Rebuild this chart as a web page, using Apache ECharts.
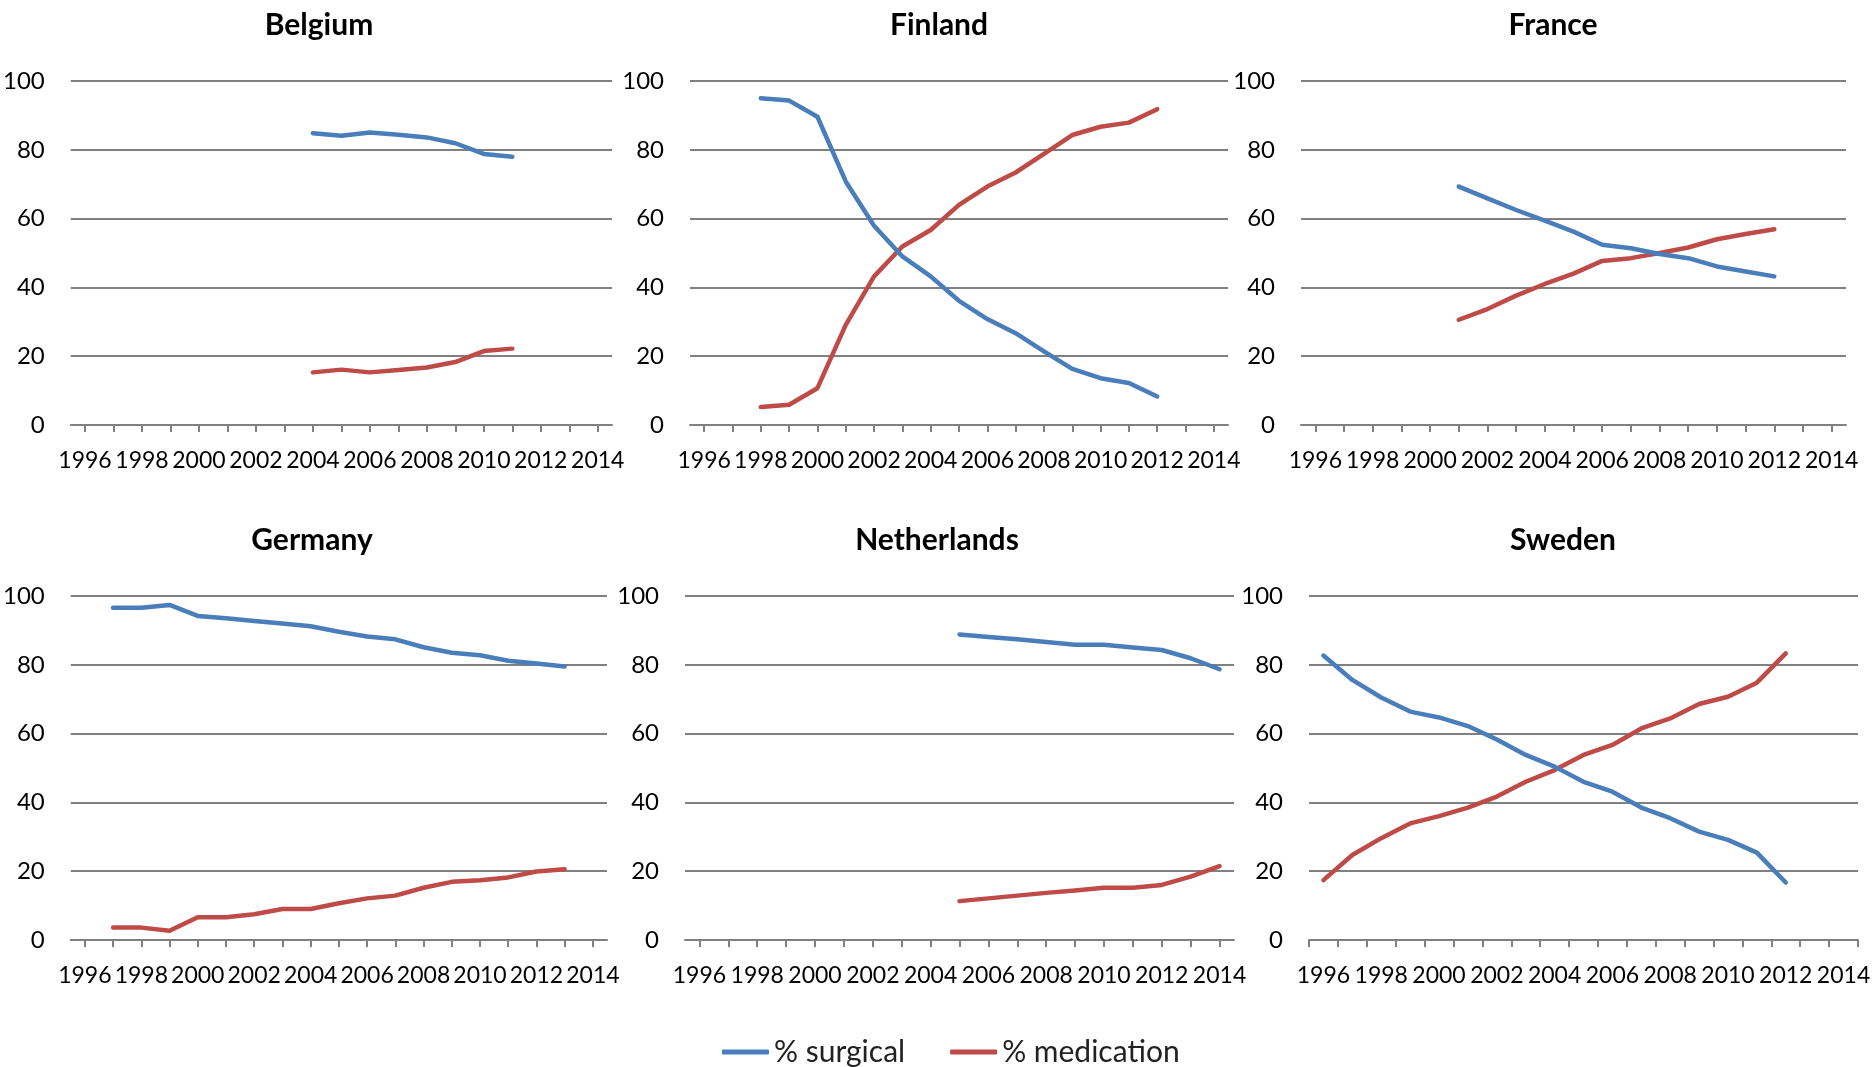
<!DOCTYPE html>
<html>
<head>
<meta charset="utf-8">
<script src="https://cdn.jsdelivr.net/npm/echarts@6/dist/echarts.min.js"></script>
<style>
html,body{margin:0;padding:0;background:#fff;}
#chart{width:1874px;height:1067px;}
</style>
</head>
<body>
<div id="chart"></div>
<script>
// ---- Data ----
const categories = ['1996','1997','1998','1999','2000','2001','2002','2003','2004','2005','2006','2007','2008','2009','2010','2011','2012','2013','2014'];
const yTicks = [0, 20, 40, 60, 80, 100];
const seriesNames = ['% surgical', '% medication'];
const countries = ['Belgium', 'Finland', 'France', 'Germany', 'Netherlands', 'Sweden'];

const belgiumYears = [2004,2005,2006,2007,2008,2009,2010,2011];
const belgiumSurgical = [84.8,84.1,85.0,84.4,83.6,81.9,78.8,78.0];
const belgiumMedication = [15.3,16.1,15.3,16.0,16.7,18.3,21.5,22.2];

const finlandYears = [1998,1999,2000,2001,2002,2003,2004,2005,2006,2007,2008,2009,2010,2011,2012];
const finlandSurgical = [95.0,94.3,89.6,70.8,57.9,49.0,43.2,36.1,30.8,26.7,21.4,16.3,13.6,12.2,8.3];
const finlandMedication = [5.2,5.9,10.7,29.1,43.2,51.9,56.7,64.0,69.3,73.4,78.8,84.3,86.7,87.9,91.8];

const franceYears = [2001,2002,2003,2004,2005,2006,2007,2008,2009,2010,2011,2012];
const franceSurgical = [69.3,65.9,62.5,59.4,56.2,52.4,51.4,49.7,48.5,46.1,44.6,43.2];
const franceMedication = [30.6,33.7,37.6,41.0,44.0,47.7,48.5,50.0,51.6,54.0,55.5,56.9];

const germanyYears = [1997,1998,1999,2000,2001,2002,2003,2004,2005,2006,2007,2008,2009,2010,2011,2012,2013];
const germanySurgical = [96.6,96.6,97.4,94.2,93.5,92.7,92.0,91.2,89.6,88.2,87.4,85.1,83.5,82.8,81.2,80.4,79.5];
const germanyMedication = [3.6,3.6,2.7,6.6,6.6,7.5,9.0,9.0,10.7,12.1,12.9,15.2,16.9,17.4,18.2,19.9,20.6];

const netherlandsYears = [2005,2006,2007,2008,2009,2010,2011,2012,2013,2014];
const netherlandsSurgical = [88.8,88.1,87.4,86.6,85.8,85.8,85.0,84.3,81.9,78.7];
const netherlandsMedication = [11.3,12.1,12.9,13.7,14.4,15.2,15.2,16.0,18.4,21.5];

const swedenYears = [1996,1997,1998,1999,2000,2001,2002,2003,2004,2005,2006,2007,2008,2009,2010,2011,2012];
const swedenSurgical = [82.7,75.6,70.5,66.4,64.7,62.2,58.3,53.8,50.4,46.0,43.1,38.5,35.4,31.5,29.1,25.4,16.7];
const swedenMedication = [17.4,24.7,29.6,33.9,36.0,38.5,41.7,46.0,49.4,53.8,56.7,61.5,64.4,68.6,70.7,74.8,83.3];

const panelData = [
  [belgiumYears, belgiumSurgical, belgiumMedication],
  [finlandYears, finlandSurgical, finlandMedication],
  [franceYears, franceSurgical, franceMedication],
  [germanyYears, germanySurgical, germanyMedication],
  [netherlandsYears, netherlandsSurgical, netherlandsMedication],
  [swedenYears, swedenSurgical, swedenMedication]
];

// ---- Layout / style ----
const grids = [
  {left: 69,  top: 81,  width: 543, height: 344},
  {left: 690, top: 81,  width: 538, height: 344},
  {left: 1301, top: 81, width: 545, height: 344},
  {left: 60,  top: 596, width: 547, height: 344},
  {left: 685, top: 596, width: 549, height: 344},
  {left: 1309, top: 596, width: 549, height: 344}
];
const titleCenters = [[314, 5], [934, 5], [1548, 5], [307, 520], [932, 520], [1558, 520]];
const ticksBetween = [false, false, false, false, false, true];
const colors = ['#4A7EBB', '#BE4B48'];
const gridColor = '#808080';
const fontFam = 'Lato, "Open Sans", sans-serif';

const option = {
  animation: false,
  backgroundColor: '#ffffff',
  title: countries.map((c, i) => ({
    text: c,
    left: titleCenters[i][0],
    top: titleCenters[i][1],
    textAlign: 'center',
    textStyle: {fontFamily: fontFam, fontWeight: 'bold', fontSize: 30, color: '#000'}
  })),
  legend: {
    data: seriesNames,
    left: 717,
    top: 1032,
    icon: 'roundRect',
    itemWidth: 47,
    itemHeight: 5,
    itemGap: 45,
    textStyle: {fontFamily: fontFam, fontSize: 30, color: '#222'}
  },
  grid: grids.map(g => Object.assign({containLabel: false}, g)),
  xAxis: grids.map((g, i) => ({
    type: 'category',
    gridIndex: i,
    data: categories,
    boundaryGap: true,
    axisLine: {show: true, lineStyle: {color: gridColor, width: 2}},
    axisTick: {show: true, interval: 0, alignWithLabel: !ticksBetween[i], length: 7, lineStyle: {color: gridColor, width: 2}},
    axisLabel: {interval: 1, margin: 24, fontFamily: fontFam, fontSize: 23, color: '#000'},
    splitLine: {show: false}
  })),
  yAxis: grids.map((g, i) => ({
    type: 'value',
    gridIndex: i,
    min: yTicks[0],
    max: yTicks[yTicks.length - 1],
    interval: 20,
    axisLine: {show: false},
    axisTick: {show: false},
    axisLabel: {margin: 26, fontFamily: fontFam, fontSize: 24, color: '#000'},
    splitLine: {show: true, lineStyle: {color: gridColor, width: 2}}
  })),
  series: []
};

panelData.forEach((p, i) => {
  const years = p[0];
  [p[1], p[2]].forEach((vals, k) => {
    option.series.push({
      name: seriesNames[k],
      type: 'line',
      xAxisIndex: i,
      yAxisIndex: i,
      data: years.map((y, j) => [String(y), vals[j]]),
      showSymbol: false,
      symbol: 'none',
      smooth: false,
      lineStyle: {color: colors[k], width: 4.5, cap: 'round', join: 'round'},
      itemStyle: {color: colors[k]},
      z: k === 0 ? 3 : 2
    });
  });
});

const chart = echarts.init(document.getElementById('chart'), null, {renderer: 'canvas'});
chart.setOption(option);
</script>
</body>
</html>
